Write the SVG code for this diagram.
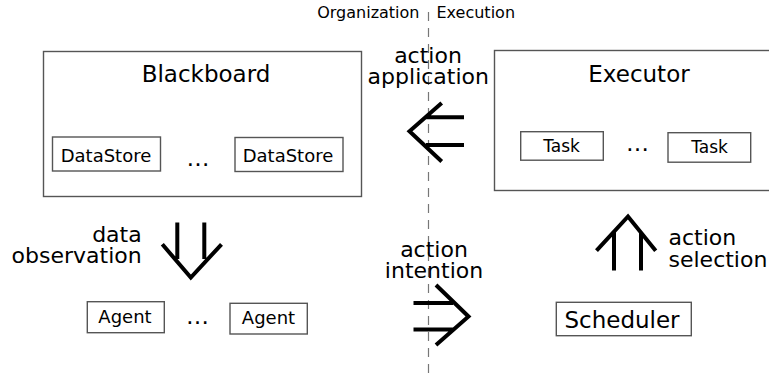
<svg xmlns="http://www.w3.org/2000/svg" width="769" height="377" viewBox="0 0 769 377">
  <style>
    text { font-family: "DejaVu Sans", "Liberation Sans", sans-serif; fill: #000; }
    .box { fill: #fff; stroke: #555; stroke-width: 1.4; }
    .title { font-size: 23px; text-anchor: middle; }
    .item { font-size: 18px; text-anchor: middle; }
    .dots { font-size: 23px; text-anchor: middle; }
    .label { font-size: 22px; }
    .side { font-size: 16px; }
    .flow { fill: none; stroke: #000; stroke-width: 4; stroke-linecap: butt; stroke-linejoin: miter; }
    .divider { stroke: #777; stroke-width: 1.2; stroke-dasharray: 9 7; }
  </style>

  <!-- boundary between organization and execution -->
  <g id="boundary">
    <line class="divider" x1="428.5" y1="12" x2="428.5" y2="377"/>
    <text class="side" x="419.5" y="18" text-anchor="end">Organization</text>
    <text class="side" x="436.5" y="18">Execution</text>
  </g>

  <g id="blackboard">
    <rect class="box" x="43.5" y="51.5" width="318" height="145"/>
    <text class="title" x="206" y="81.7">Blackboard</text>
  </g>
  <g id="datastore-1">
    <rect class="box" x="52.5" y="137" width="108" height="34"/>
    <text class="item" x="106" y="161.7">DataStore</text>
  </g>
  <text class="dots" x="198" y="165.5">…</text>
  <g id="datastore-2">
    <rect class="box" x="235" y="137.5" width="108" height="34"/>
    <text class="item" x="288" y="161.7">DataStore</text>
  </g>

  <g id="executor">
    <rect class="box" x="494.5" y="50.5" width="280" height="140"/>
    <text class="title" x="639" y="81.7">Executor</text>
  </g>
  <g id="task-1">
    <rect class="box" x="520.7" y="131.7" width="82.6" height="28.5"/>
    <text class="item" x="561.5" y="151.7" style="font-size:17px">Task</text>
  </g>
  <text class="dots" x="637.5" y="150.5">…</text>
  <g id="task-2">
    <rect class="box" x="668" y="132.7" width="82.7" height="29.5"/>
    <text class="item" x="709.5" y="153.3" style="font-size:17px">Task</text>
  </g>

  <g id="agent-1">
    <rect class="box" x="87.3" y="301.7" width="77" height="31"/>
    <text class="item" x="125" y="322.7">Agent</text>
  </g>
  <text class="dots" x="197.5" y="324.3">…</text>
  <g id="agent-2">
    <rect class="box" x="230" y="303.3" width="77.3" height="30.7"/>
    <text class="item" x="268.5" y="324">Agent</text>
  </g>

  <g id="scheduler">
    <rect class="box" x="556.3" y="302.3" width="135" height="33.4"/>
    <text class="title" x="622" y="328.3">Scheduler</text>
  </g>

  <g id="connectors">
    <!-- action application: Executor to Blackboard -->
    <g id="action-application">
      <path class="flow" d="M426 117.3 H464 M426 145 H464 M441.7 103 L409.5 131.2 L441.7 161.5"/>
      <text class="label" x="428" y="63.3" text-anchor="middle">action</text>
      <text class="label" x="428.3" y="84" text-anchor="middle">application</text>
    </g>
    <!-- data observation: Blackboard to agents -->
    <g id="data-observation">
      <path class="flow" d="M177.3 222.5 V259 M204.3 222.5 V259 M162.3 244.3 L190.8 277.5 L221.5 244.3"/>
      <text class="label" x="141.7" y="241.7" text-anchor="end">data</text>
      <text class="label" x="141.7" y="263.3" text-anchor="end">observation</text>
    </g>
    <!-- action intention: agents to Scheduler -->
    <g id="action-intention">
      <path class="flow" d="M413.5 303 H453 M413.5 329.5 H453 M436 285 L468.5 316.5 L436 345"/>
      <text class="label" x="434" y="256.7" text-anchor="middle">action</text>
      <text class="label" x="434" y="278.3" text-anchor="middle">intention</text>
    </g>
    <!-- action selection: Scheduler to Executor -->
    <g id="action-selection">
      <path class="flow" d="M614 270.5 V232 M641 270.5 V232 M596.5 250.7 L628 216.5 L655.7 250.7"/>
      <text class="label" x="668.5" y="245" >action</text>
      <text class="label" x="668.5" y="266.7">selection</text>
    </g>
  </g>
</svg>
